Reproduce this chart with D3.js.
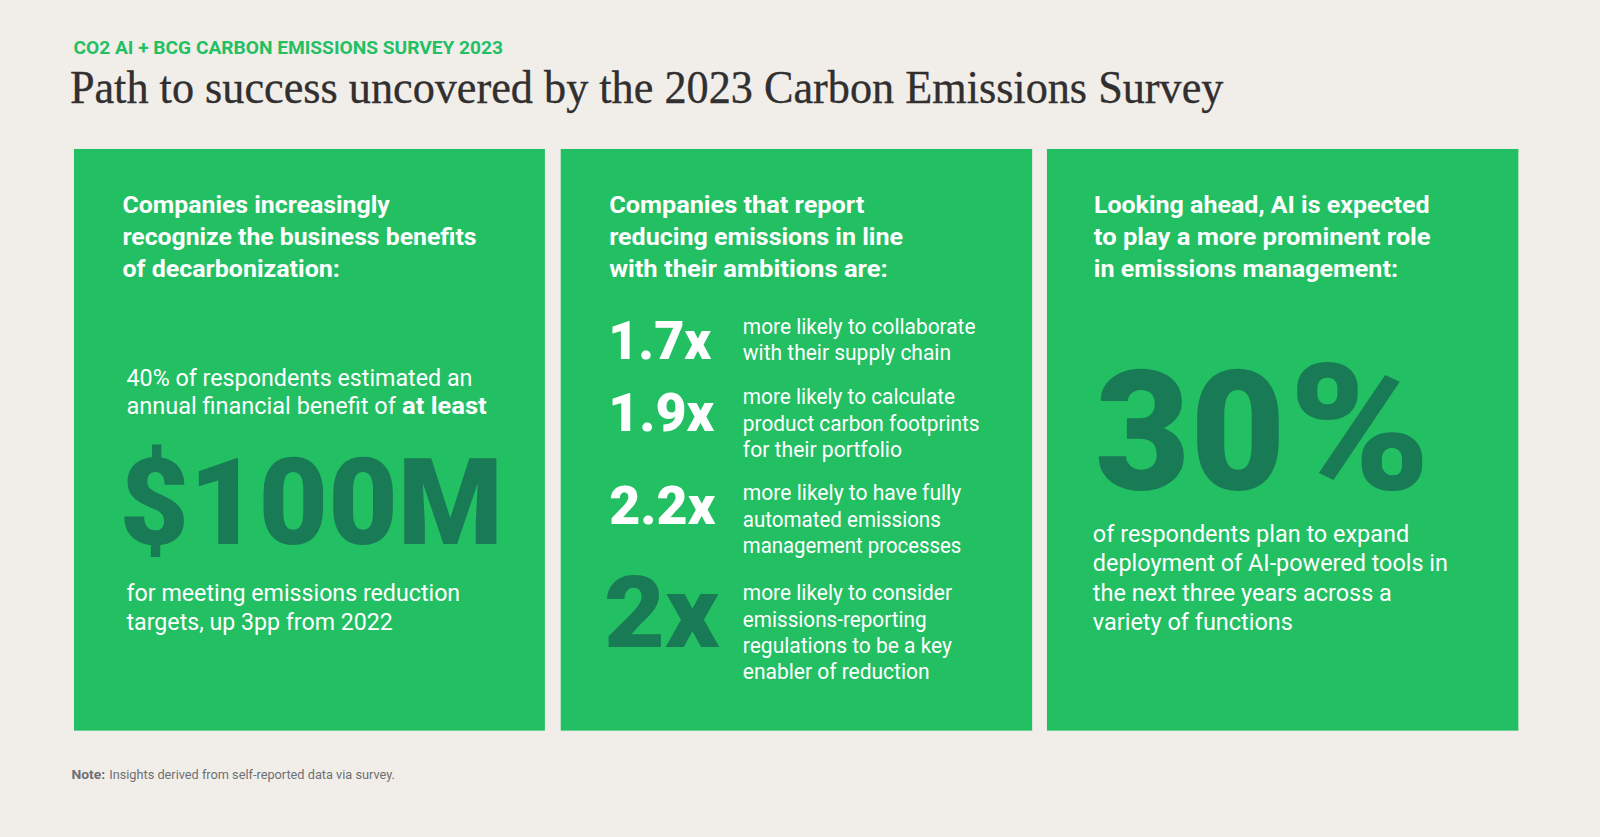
<!DOCTYPE html>
<html>

<head>
  <script src="https://d3js.org/d3.v7.min.js"></script>
  <style>
    html, body { margin: 0; padding: 0; background: #f1eeea; }
    svg { display: block; }
    text { font-family: Roboto, "Noto Sans", sans-serif; }
  </style>
</head>

<body>
  <div id="chart"></div>
  <script type="text/javascript">
    var width = 1600,
      height = 837;

    var white = "#ffffff",
      green = "#22c063",
      dark = "#197a56";

    // positions at 1568 wide
    var pos = d3.scaleLinear().domain([0, 1568]).range([0, 1600]);

    var panels = [
      { x0: 72.5, x1: 534, y0: 146, y1: 716 },
      { x0: 549.5, x1: 1011.5, y0: 146, y1: 716 },
      { x0: 1026, x1: 1488, y0: 146, y1: 716 }
    ];

    // t: text, x: left, r: right, y: baseline, s: size, w: weight, c: colour
    var labels = [
      { t: "CO2 AI + BCG CARBON EMISSIONS SURVEY 2023", x: 72, r: 493, y: 53, s: 17.5, w: 700, c: green },
      { t: "Path to success uncovered by the 2023 Carbon Emissions Survey", x: 68.5, r: 1199, y: 101, s: 46, w: 400, c: "#312f2f", f: "Liberation Serif", o: 0.35 },

      { t: "Companies increasingly", x: 120, r: 382, y: 209, s: 24, w: 700, c: white },
      { t: "recognize the business benefits", x: 120, r: 467, y: 240, s: 24, w: 700, c: white },
      { t: "of decarbonization:", x: 120, r: 333, y: 271, s: 24, w: 700, c: white },
      { t: "40% of respondents estimated an", x: 124, r: 463, y: 378, s: 23.5, w: 400, c: white },
      { t: "annual financial benefit of", x: 124, r: 388, y: 406, s: 23.5, w: 400, c: white },
      { t: "at least", x: 394, r: 477, y: 406, s: 23.5, w: 700, c: white },
      { t: "$100M", x: 117, r: 493, y: 533, s: 119, w: 900, c: dark },
      { t: "for meeting emissions reduction", x: 124, r: 451, y: 589, s: 23.5, w: 400, c: white },
      { t: "targets, up 3pp from 2022", x: 124, r: 385, y: 617, s: 23.5, w: 400, c: white },

      { t: "Companies that report", x: 597, r: 847, y: 209, s: 24, w: 700, c: white },
      { t: "reducing emissions in line", x: 597, r: 885, y: 240, s: 24, w: 700, c: white },
      { t: "with their ambitions are:", x: 597, r: 870, y: 271, s: 24, w: 700, c: white },
      { t: "1.7x", x: 596, r: 697, y: 352, s: 53, w: 900, c: white },
      { t: "1.9x", x: 596, r: 700, y: 422, s: 53, w: 900, c: white },
      { t: "2.2x", x: 597, r: 701, y: 514, s: 53, w: 900, c: white },
      { t: "2x", x: 592, r: 705, y: 634, s: 99, w: 900, c: dark },
      { t: "more likely to collaborate", x: 728, r: 956, y: 327, s: 21, w: 400, c: white },
      { t: "with their supply chain", x: 728, r: 932, y: 353, s: 21, w: 400, c: white },
      { t: "more likely to calculate", x: 728, r: 936, y: 396, s: 21, w: 400, c: white },
      { t: "product carbon footprints", x: 728, r: 960, y: 422, s: 21, w: 400, c: white },
      { t: "for their portfolio", x: 728, r: 884, y: 448, s: 21, w: 400, c: white },
      { t: "more likely to have fully", x: 728, r: 942, y: 490, s: 21, w: 400, c: white },
      { t: "automated emissions", x: 728, r: 922, y: 516, s: 21, w: 400, c: white },
      { t: "management processes", x: 728, r: 942, y: 542, s: 21, w: 400, c: white },
      { t: "more likely to consider", x: 728, r: 933, y: 588, s: 21, w: 400, c: white },
      { t: "emissions-reporting", x: 728, r: 908, y: 614, s: 21, w: 400, c: white },
      { t: "regulations to be a key", x: 728, r: 933, y: 640, s: 21, w: 400, c: white },
      { t: "enabler of reduction", x: 728, r: 911, y: 665, s: 21, w: 400, c: white },

      { t: "Looking ahead, AI is expected", x: 1072, r: 1401, y: 209, s: 24, w: 700, c: white },
      { t: "to play a more prominent role", x: 1072, r: 1402, y: 240, s: 24, w: 700, c: white },
      { t: "in emissions management:", x: 1072, r: 1370, y: 271, s: 24, w: 700, c: white },
      // the % sits apart so it can reach the height of the digits
      { t: "30", x: 1073, r: 1260, y: 479, s: 163, w: 900, c: dark },
      { t: "%", x: 1263, r: 1402, y: 479, s: 172, w: 900, c: dark },
      { t: "of respondents plan to expand", x: 1071, r: 1381, y: 531, s: 23.5, w: 400, c: white },
      { t: "deployment of AI-powered tools in", x: 1071, r: 1419, y: 560, s: 23.5, w: 400, c: white },
      { t: "the next three years across a", x: 1071, r: 1364, y: 589, s: 23.5, w: 400, c: white },
      { t: "variety of functions", x: 1071, r: 1267, y: 617, s: 23.5, w: 400, c: white },

      { t: "Note:", x: 70, r: 103, y: 763, s: 13, w: 700, c: "#6e6f73" },
      { t: "Insights derived from self-reported data via survey.", x: 107, r: 387, y: 763, s: 13, w: 400, c: "#6e6f73" }
    ];

    var svg = d3.select("#chart")
      .append("svg")
      .attr("width", width)
      .attr("height", height);

    svg.append("rect")
      .attr("width", width)
      .attr("height", height)
      .attr("fill", "#f1eeea");

    svg.selectAll(".panel")
      .data(panels)
      .enter().append("rect")
      .attr("class", "panel")
      .attr("x", function(d) { return pos(d.x0); })
      .attr("y", function(d) { return pos(d.y0); })
      .attr("width", function(d) { return pos(d.x1) - pos(d.x0); })
      .attr("height", function(d) { return pos(d.y1) - pos(d.y0); })
      .attr("fill", green);

    svg.selectAll(".label")
      .data(labels)
      .enter().append("text")
      .attr("class", "label")
      .attr("x", function(d) { return pos(d.x); })
      .attr("y", function(d) { return pos(d.y); })
      .attr("font-size", function(d) { return pos(d.s); })
      .attr("font-weight", function(d) { return d.w; })
      .attr("fill", function(d) { return d.c; })
      .attr("stroke", function(d) { return d.o ? d.c : null; })
      .attr("stroke-width", function(d) { return d.o || null; })
      .style("font-family", function(d) { return d.f || null; })
      // the original typeface is not installed, so hold each line to its width
      .attr("textLength", function(d) { return pos(d.r) - pos(d.x); })
      .attr("lengthAdjust", "spacingAndGlyphs")
      .text(function(d) { return d.t; });
  </script>
</body>

</html>
